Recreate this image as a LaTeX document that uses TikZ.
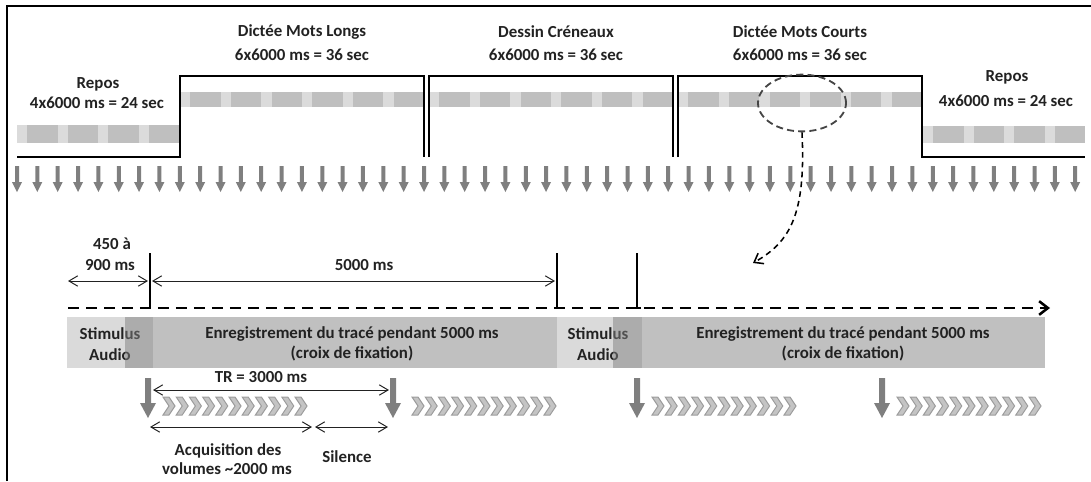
\documentclass[tikz,border=0pt]{standalone}
\usepackage{fontspec}
\setmainfont{Carlito}
\usetikzlibrary{arrows.meta,positioning,shapes.geometric}
\definecolor{inkgray}{HTML}{222222}
\definecolor{bandlight}{HTML}{DBDBDB}
\definecolor{banddark}{HTML}{BFBFBF}
\definecolor{markgray}{HTML}{7F7F7F}
\definecolor{stimgray}{HTML}{DADADA}
\definecolor{recgray}{HTML}{C0C0C0}
\definecolor{chevfill}{HTML}{C4C4C4}
\definecolor{chevline}{HTML}{9C9C9C}
\definecolor{zoomgray}{HTML}{454545}
\tikzset{
  blocklabel/.style={font=\bfseries\fontsize{12}{14.4}\selectfont,text=inkgray,inner sep=0pt,align=center},
  waveline/.style={draw=black,line width=1.4pt,line join=miter},
  tickline/.style={draw=black,line width=1.4pt},
  dimarrow/.style={{Straight Barb[length=2.2mm,width=2.6mm]}-{Straight Barb[length=2.2mm,width=2.6mm]},draw=inkgray,line width=0.7pt},
  timeaxis/.style={-{Straight Barb[length=2.2mm,width=3.4mm]},draw=black,line width=1.8pt,dash pattern=on 7.8pt off 5pt},
  zoomring/.style={ellipse,draw=zoomgray,line width=1.3pt,dash pattern=on 5pt off 3pt,minimum width=2.2cm,minimum height=1.42cm,inner sep=0pt},
  zoomlink/.style={-{Straight Barb[length=2mm,width=3mm]},draw=black,line width=1.1pt,dash pattern=on 4pt off 3pt},
  chevron/.style={fill=chevfill,draw=chevline,line width=0.7pt,line join=miter},
  overlapbox/.style={fill=black!50,opacity=0.5},
}
% one grey band: x0, x1, number of volumes, ytop, ybot
\newcommand\bandrow[5]{%
  \fill[bandlight] (#1,#4) rectangle (#2,#5);
  \pgfmathsetmacro\bandpitch{(#2-#1)/#3}
  \foreach \k in {1,...,#3}{
    \fill[banddark] ({#1+(\k-0.75)*\bandpitch},#4) rectangle ({#1+\k*\bandpitch},#5);
  }
}
\begin{document}
\begin{tikzpicture}[x=0.025cm,y=-0.025cm]
  \useasboundingbox (0,0) rectangle (1091,481);
  \draw[line width=1.2pt] (7,481) -- (7,6) -- (1091,6);

  % blocks
  \bandrow{17}{179}{4}{125}{143}
  \bandrow{180}{424}{6}{92}{107}
  \bandrow{429}{673}{6}{92}{107}
  \bandrow{678}{922}{6}{92}{107}
  \bandrow{923}{1085}{4}{126}{143}
  \draw[waveline] (17,157) -- (180,157) -- (180,76) -- (424,76) -- (424,157);
  \draw[waveline] (429,157) -- (429,76) -- (673,76) -- (673,157);
  \draw[waveline] (678,157) -- (678,76) -- (922,76) -- (922,157) -- (1085,157);

  \node[blocklabel] (reposL) at (98,84) {Repos};
  \node[blocklabel] (reposLdur) at (97,103) {4x6000 ms = 24 sec};
  \node[blocklabel] (longs) at (302,32) {Dictée Mots Longs};
  \node[blocklabel] (longsdur) at (302,55) {6x6000 ms = 36 sec};
  \node[blocklabel] (creneaux) at (556,32) {Dessin Créneaux};
  \node[blocklabel] (creneauxdur) at (556,55) {6x6000 ms = 36 sec};
  \node[blocklabel] (courts) at (800,32) {Dictée Mots Courts};
  \node[blocklabel] (courtsdur) at (800,55) {6x6000 ms = 36 sec};
  \node[blocklabel] (reposR) at (1007,77) {Repos};
  \node[blocklabel] (reposRdur) at (1006,101) {4x6000 ms = 24 sec};

  % volumes
  \foreach \i in {0,...,52}{
    \pgfmathsetmacro\mx{17+20.35*\i}
    \fill[markgray] ({\mx-2},166) -- ({\mx+2},166) -- ({\mx+2},182) -- ({\mx+5},182) -- (\mx,192) -- ({\mx-5},182) -- ({\mx-2},182) -- cycle;
  }

  \node[zoomring] (zoomring) at (802,103) {};
  \coordinate (zoomtip) at (753,263);
  \draw[zoomlink] (zoomring.south) .. controls (806,215) and (790,242) .. (zoomtip);

  % one trial
  \coordinate (axstart) at (68,308);
  \coordinate (axend) at (1050,308);
  \coordinate (onset1) at (150,308);
  \coordinate (offset1) at (557,308);
  \coordinate (onset2) at (637,308);
  \draw[timeaxis] (axstart) -- (axend);
  \draw[tickline] (onset1) -- ++(0,-55);
  \draw[tickline] (offset1) -- ++(0,-55);
  \draw[tickline] ([xshift=0.1cm]onset2) -- (onset2) -- ++(0,-55);

  \coordinate (jitL) at (68,281);
  \coordinate (jitR) at (148,281);
  \coordinate (recL) at (152,281);
  \coordinate (recR) at (555,281);
  \draw[dimarrow] (jitL) -- (jitR);
  \draw[dimarrow] (recL) -- (recR);
  \node[blocklabel] (jit) at (112,244) {450 à};
  \node[blocklabel] (jitms) at (110,265) {900 ms};
  \node[blocklabel] (rec) at (364,265) {5000 ms};

  \fill[stimgray] (67,317) rectangle (153,368);
  \fill[recgray] (153,317) rectangle (557,368);
  \fill[stimgray] (557,317) rectangle (642,368);
  \fill[recgray] (642,317) rectangle (1045,368);
  \node[blocklabel] (stim1) at (110,344) {Stimulus\\Audio};
  \node[blocklabel] (stim2) at (598,344) {Stimulus\\Audio};
  \node[blocklabel] (trace1) at (352,344) {Enregistrement du tracé pendant 5000 ms\\(croix de fixation)};
  \node[blocklabel] (trace2) at (843,344) {Enregistrement du tracé pendant 5000 ms\\(croix de fixation)};
  \fill[overlapbox] (125,317) rectangle (153,368);
  \fill[overlapbox] (613,317) rectangle (642,368);

  % acquisitions
  \foreach \mx/\cx in {148/163,393/412,637/652,882/897}{
    \fill[markgray] ({\mx-3},378) -- ({\mx+3},378) -- ({\mx+3},403) -- ({\mx+8},403) -- (\mx,418) -- ({\mx-8},403) -- ({\mx-3},403) -- cycle;
    \foreach \j in {0,...,10}{
      \pgfmathsetmacro\cxj{\cx+13.2*\j}
      \filldraw[chevron] (\cxj,397) -- ++(6,0) -- ++(6,9) -- ++(-6,9) -- ++(-6,0) -- ++(6,-9) -- cycle;
    }
  }

  \coordinate (trL) at (153,390);
  \coordinate (trR) at (389,390);
  \coordinate (acqL) at (150,427);
  \coordinate (acqR) at (312,427);
  \coordinate (silL) at (315,427);
  \coordinate (silR) at (388,427);
  \draw[dimarrow] (trL) -- (trR);
  \draw[dimarrow] (acqL) -- (acqR);
  \draw[dimarrow] (silL) -- (silR);
  \node[blocklabel] (tr) at (261,377) {TR = 3000 ms};
  \node[blocklabel] (acq) at (228,451) {Acquisition des};
  \node[blocklabel] (acqms) at (227,469) {volumes \textasciitilde2000 ms};
  \node[blocklabel] (silence) at (347,457) {Silence};
\end{tikzpicture}
\end{document}
